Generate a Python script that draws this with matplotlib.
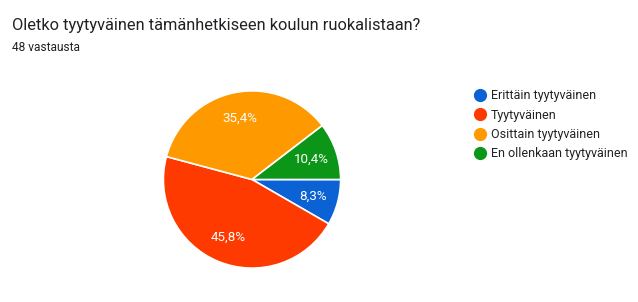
import matplotlib.pyplot as plt
from matplotlib.lines import Line2D

plt.rcParams['font.family'] = ['Roboto', 'DejaVu Sans']

title = 'Oletko tyytyväinen tämänhetkiseen koulun ruokalistaan?'
subtitle = '48 vastausta'
labels = ['Erittäin tyytyväinen', 'Tyytyväinen', 'Osittain tyytyväinen',
          'En ollenkaan tyytyväinen']
counts = [4, 22, 17, 5]
colors = ['#0b62d4', '#ff3a00', '#ff9900', '#0c9618']

W, H = 638, 302
fig = plt.figure(figsize=(W / 100, H / 100), dpi=100)

# pie axes, placed in pixels
cx, cy, r = 252, 179.5, 89.5
ax = fig.add_axes([(cx - r) / W, (H - cy - r) / H, 2 * r / W, 2 * r / H])
wedges, texts, autotexts = ax.pie(
    counts, colors=colors, startangle=0, counterclock=False,
    autopct=lambda p: f'{p:.1f}%'.replace('.', ','), pctdistance=0.71,
    wedgeprops=dict(edgecolor='white', linewidth=1.2),
    textprops=dict(color='white', fontsize=9.6))
ax.set_xlim(-1.01, 1.01)
ax.set_ylim(-1.01, 1.01)
ax.set_aspect('equal')
ax.axis('off')

fig.text(12 / W, 1 - 30 / H, title, fontsize=11.8, color='#202124', va='baseline')
fig.text(12 / W, 1 - 51 / H, subtitle, fontsize=8.6, color='#202124', va='baseline')

handles = [Line2D([], [], marker='o', linestyle='none', markersize=8.5,
                  markerfacecolor=c, markeredgecolor=c) for c in colors]
fig.legend(handles, labels, loc='upper left',
           bbox_to_anchor=(475 / W, 1 - 89.5 / H), frameon=False,
           fontsize=9, labelspacing=0.5, handlelength=0.8,
           handletextpad=0.45, borderpad=0, borderaxespad=0,
           labelcolor='#222222')

fig.savefig('out.png', dpi=100, facecolor='white')
